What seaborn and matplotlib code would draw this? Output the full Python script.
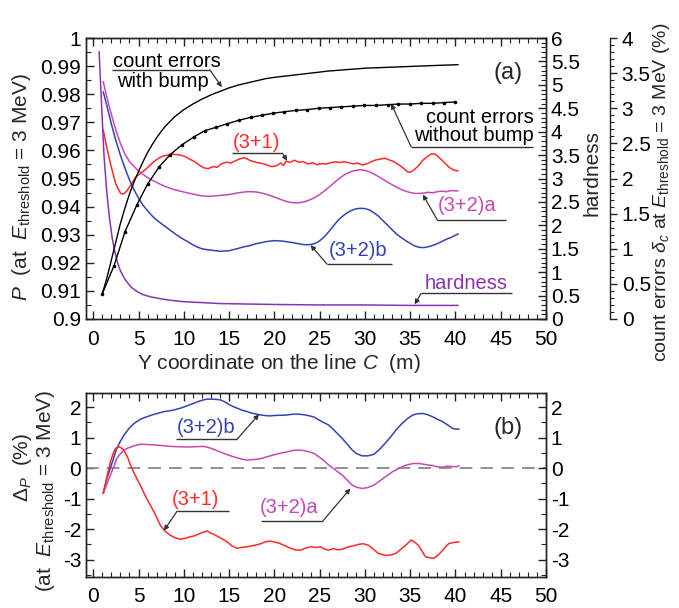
import numpy as np
import pandas as pd
import matplotlib
matplotlib.use("Agg")
import matplotlib.pyplot as plt
from matplotlib.ticker import MultipleLocator, FuncFormatter
import seaborn as sns

# ---------------- data ----------------
# (a) P curves
x_31 = [1.1, 1.5, 2.0, 2.5, 3.0, 3.3, 3.7, 4.2, 4.7, 5.2, 5.7, 6.2, 6.7, 7.2, 7.7, 8.2, 8.7, 9.2,
        9.7, 10.2, 10.7, 11.2, 11.7, 12.2, 12.7, 13.2, 13.7, 14.2, 14.7, 15.2, 15.7, 16.2, 16.7,
        17.2, 17.7, 18.2, 18.7, 19.2, 19.7, 20.2, 20.7, 21.0, 21.3, 21.7, 22.2, 22.7, 23.2, 23.7,
        24.2, 24.7, 25.2, 25.7, 26.2, 26.7, 27.2, 27.7, 28.2, 28.7, 29.2, 29.7, 30.2, 30.7, 31.2,
        31.7, 32.2, 32.7, 33.2, 33.7, 34.2, 34.7, 35.0, 35.4, 35.9, 36.4, 36.9, 37.4, 37.8, 38.3,
        38.8, 39.3, 39.8, 40.3]
p_31 = [0.9673, 0.961, 0.954, 0.948, 0.9448, 0.9444, 0.9455, 0.948, 0.9505, 0.9518, 0.953, 0.9545,
        0.956, 0.9572, 0.958, 0.9583, 0.9587, 0.9585, 0.9583, 0.9577, 0.9568, 0.956, 0.9548, 0.9538,
        0.9535, 0.9542, 0.954, 0.9553, 0.9558, 0.9555, 0.9563, 0.957, 0.9574, 0.9566, 0.956, 0.9556,
        0.9553, 0.9548, 0.9542, 0.9545, 0.9555, 0.9546, 0.9562, 0.9557, 0.9565, 0.9558, 0.956,
        0.9552, 0.9556, 0.9549, 0.9553, 0.9551, 0.9556, 0.9559, 0.9557, 0.956, 0.9556, 0.9552,
        0.9555, 0.9548, 0.9552, 0.956, 0.9566, 0.9569, 0.9572, 0.9566, 0.956, 0.955, 0.9538,
        0.9524, 0.9522, 0.953, 0.9545, 0.9565, 0.9578, 0.9588, 0.9586, 0.9572, 0.9556, 0.954,
        0.953, 0.9527]

x_32 = [1.1, 1.5, 2.0, 2.5, 3.0, 3.5, 4.0, 4.5, 5.0, 5.5, 6.0, 6.5, 7.0, 7.5, 8.0, 8.5, 9.0, 9.5,
        10.0, 10.5, 11.0, 11.5, 12.0, 12.5, 13.0, 13.5, 14.0, 14.5, 15.0, 15.5, 16.0, 16.5, 17.0,
        17.5, 18.0, 18.5, 19.0, 19.5, 20.0, 20.5, 21.0, 21.5, 22.0, 22.5, 23.0, 23.5, 24.0, 24.5,
        25.0, 25.5, 26.0, 26.5, 27.0, 27.5, 28.0, 28.5, 29.0, 29.5, 30.0, 30.5, 31.0, 31.5, 32.0,
        32.5, 33.0, 33.5, 34.0, 34.5, 35.0, 35.5, 36.0, 36.5, 37.0, 37.5, 38.0, 38.5, 39.0, 39.5,
        40.0, 40.3]
p_32a = [0.9845, 0.979, 0.9728, 0.9672, 0.9625, 0.9587, 0.956, 0.9543, 0.9527, 0.9515, 0.9503,
         0.9494, 0.9486, 0.9478, 0.9471, 0.9465, 0.946, 0.9456, 0.9452, 0.9448, 0.9445, 0.9441,
         0.9438, 0.9437, 0.9437, 0.9438, 0.944, 0.9441, 0.9443, 0.9446, 0.9449, 0.9451, 0.9453,
         0.9453, 0.9452, 0.9449, 0.9445, 0.944, 0.9434, 0.9428, 0.9422, 0.9417, 0.9414, 0.9413,
         0.9415, 0.9419, 0.9425, 0.9433, 0.9443, 0.9455, 0.9468, 0.9482, 0.9496, 0.9508, 0.9518,
         0.9525, 0.9529, 0.9531, 0.9529, 0.9524, 0.9516, 0.9507, 0.9497, 0.9487, 0.9478, 0.9469,
         0.9461, 0.9455, 0.945, 0.9447, 0.9447, 0.9448, 0.9451, 0.9449, 0.9453, 0.9455, 0.9453,
         0.9457, 0.9456, 0.9456]
p_32b = [0.9809, 0.976, 0.9694, 0.9635, 0.9583, 0.9537, 0.9495, 0.946, 0.943, 0.9405, 0.9385,
         0.9367, 0.9352, 0.934, 0.9328, 0.9316, 0.9304, 0.9293, 0.9283, 0.9274, 0.9264, 0.9256,
         0.925, 0.9247, 0.9245, 0.9243, 0.9241, 0.9242, 0.9243, 0.9247, 0.9251, 0.9256, 0.9259,
         0.9263, 0.9268, 0.9271, 0.9275, 0.9277, 0.9279, 0.9278, 0.9277, 0.9274, 0.9272, 0.9269,
         0.9266, 0.9264, 0.9265, 0.9269, 0.9278, 0.9292, 0.931, 0.933, 0.935, 0.9365, 0.9377,
         0.9386, 0.9392, 0.9394, 0.9393, 0.9388, 0.9378, 0.9366, 0.935, 0.9334, 0.9318, 0.9302,
         0.929, 0.9279, 0.9269, 0.926, 0.9255, 0.9254, 0.9257, 0.9262, 0.9268, 0.9276, 0.9284,
         0.929, 0.9298, 0.9303]

# hardness (right axis)
x_hard = [0.65, 0.8, 1.0, 1.2, 1.5, 1.8, 2.1, 2.4, 2.7, 3.0, 3.4, 3.8, 4.3, 4.9, 5.5, 6.4, 7.5,
          8.5, 10.0, 12.0, 14.0, 17.0, 20.0, 25.0, 30.0, 35.0, 40.3]
hardness = [5.71, 5.07, 4.25, 3.45, 2.7, 2.15, 1.72, 1.42, 1.19, 1.03, 0.88, 0.77, 0.66, 0.58,
            0.52, 0.47, 0.43, 0.40, 0.37, 0.35, 0.33, 0.32, 0.31, 0.30, 0.30, 0.29, 0.29]

# count errors (third axis, %)
x_bump = [1.0, 1.5, 2.0, 2.5, 3.0, 3.5, 4.0, 4.5, 5.0, 5.5, 6.0, 6.5, 7.0, 7.5, 8.0, 9.0, 10.0,
          11.0, 12.0, 13.0, 14.0, 15.0, 16.0, 17.0, 18.0, 19.0, 20.0, 22.0, 24.0, 26.0, 28.0,
          30.0, 32.0, 34.0, 36.0, 38.0, 40.3]
err_bump = [0.36, 0.58, 0.84, 1.10, 1.36, 1.58, 1.78, 1.95, 2.10, 2.24, 2.37, 2.48, 2.58, 2.67,
            2.75, 2.88, 2.98, 3.06, 3.13, 3.19, 3.24, 3.29, 3.33, 3.36, 3.39, 3.42, 3.44, 3.47,
            3.50, 3.53, 3.55, 3.57, 3.58, 3.59, 3.60, 3.61, 3.62]
x_nobump = [1.0, 2.3, 3.5, 4.8, 6.0, 7.3, 8.5, 9.8, 11.1, 12.3, 13.6, 14.8, 16.1, 17.4, 18.6,
            19.9, 21.1, 22.4, 23.6, 24.9, 26.2, 27.4, 28.7, 29.9, 31.2, 32.5, 33.7, 35.0, 36.2,
            37.5, 38.7, 40.0]
err_nobump = [0.36, 0.76, 1.24, 1.62, 1.92, 2.17, 2.34, 2.48, 2.59, 2.68, 2.73, 2.78, 2.83,
              2.87, 2.90, 2.93, 2.95, 2.97, 2.98, 3.00, 3.01, 3.02, 3.03, 3.04, 3.04, 3.05,
              3.06, 3.06, 3.07, 3.07, 3.08, 3.09]

# (b) Delta P
xb_b = [1.1, 1.5, 1.9, 2.3, 2.6, 3.0, 3.4, 3.9, 4.5, 5.2, 5.9, 6.5, 7.2, 7.8, 8.5, 9.1, 9.6, 10.2,
        10.7, 11.1, 11.6, 12.1, 12.6, 13.1, 13.6, 14.1, 14.6, 15.0, 15.5, 16.0, 16.5, 17.0, 17.5,
        18.0, 18.5, 19.0, 19.5, 19.9, 20.4, 20.9, 21.4, 21.9, 22.4, 22.9, 23.4, 23.9, 24.4, 24.9,
        25.4, 26.0, 26.5, 27.0, 27.5, 28.0, 28.6, 29.1, 29.7, 30.3, 31.0, 31.5, 31.9, 32.5, 33.0,
        33.5, 34.1, 34.7, 35.3, 35.8, 36.4, 36.9, 37.5, 38.0, 38.6, 39.1, 39.7, 40.1, 40.4]
dp_b = [-0.83, -0.35, 0.0, 0.38, 0.64, 0.88, 1.08, 1.28, 1.46, 1.60, 1.68, 1.74, 1.80, 1.85,
        1.88, 1.92, 1.96, 2.02, 2.08, 2.12, 2.18, 2.23, 2.26, 2.26, 2.25, 2.23, 2.16, 2.08, 2.01,
        1.95, 1.89, 1.85, 1.80, 1.77, 1.74, 1.72, 1.71, 1.72, 1.73, 1.73, 1.74, 1.76, 1.77, 1.76,
        1.74, 1.71, 1.67, 1.58, 1.50, 1.41, 1.27, 1.12, 0.97, 0.80, 0.59, 0.47, 0.40, 0.40, 0.45,
        0.58, 0.70, 0.90, 1.08, 1.27, 1.46, 1.62, 1.74, 1.78, 1.79, 1.75, 1.68, 1.60, 1.52, 1.42,
        1.30, 1.27, 1.28]
xb_a = [1.1, 1.5, 1.9, 2.3, 2.6, 3.1, 3.7, 4.4, 5.2, 6.0, 6.7, 7.5, 8.5, 9.4, 10.4, 11.3, 12.2,
        13.0, 14.0, 14.8, 15.5, 16.3, 17.0, 17.8, 18.5, 19.2, 19.9, 20.7, 21.4, 22.1, 22.9, 23.6,
        24.4, 25.0, 25.5, 26.0, 26.5, 27.0, 27.5, 28.0, 28.6, 29.1, 29.7, 30.3, 31.0, 31.6, 32.3,
        33.0, 33.8, 34.5, 35.3, 35.9, 36.4, 37.0, 37.5, 38.0, 38.6, 39.1, 39.7, 40.1, 40.4]
dp_a = [-0.83, -0.52, -0.23, 0.07, 0.32, 0.50, 0.64, 0.72, 0.78, 0.77, 0.76, 0.74, 0.71, 0.70,
        0.69, 0.70, 0.71, 0.65, 0.53, 0.44, 0.37, 0.30, 0.26, 0.28, 0.31, 0.37, 0.43, 0.49, 0.53,
        0.58, 0.59, 0.55, 0.48, 0.35, 0.24, 0.10, -0.01, -0.12, -0.23, -0.38, -0.56, -0.63, -0.67,
        -0.64, -0.56, -0.43, -0.28, -0.13, 0.0, 0.09, 0.15, 0.15, 0.13, 0.10, 0.08, 0.04, 0.03,
        0.06, 0.05, 0.04, 0.08]
xb_31 = [1.1, 1.5, 1.9, 2.2, 2.45, 2.8, 3.1, 3.4, 3.8, 4.1, 4.6, 5.2, 5.7, 6.3, 6.9, 7.4, 7.9,
         8.5, 9.0, 9.6, 10.2, 10.7, 11.2, 11.8, 12.2, 12.6, 12.9, 13.3, 13.8, 14.3, 14.8, 15.3,
         15.9, 16.4, 17.0, 17.5, 18.0, 18.5, 19.0, 19.5, 20.0, 20.6, 21.2, 21.8, 22.3, 22.9,
         23.4, 24.0, 24.6, 25.1, 25.5, 26.0, 26.5, 27.0, 27.5, 28.2, 28.7, 29.3, 29.8, 30.4,
         30.9, 31.5, 32.0, 32.3, 32.8, 33.4, 33.9, 34.5, 35.1, 35.5, 35.9, 36.3, 36.7, 37.2,
         37.6, 38.1, 38.6, 39.0, 39.3, 39.8, 40.4]
dp_31 = [-0.83, -0.30, 0.21, 0.48, 0.64, 0.70, 0.66, 0.58, 0.35, 0.10, -0.22, -0.56, -0.88,
         -1.21, -1.55, -1.87, -2.06, -2.20, -2.28, -2.33, -2.30, -2.25, -2.22, -2.14, -2.10,
         -2.06, -2.12, -2.17, -2.25, -2.33, -2.42, -2.55, -2.63, -2.60, -2.58, -2.55, -2.52,
         -2.48, -2.42, -2.39, -2.42, -2.47, -2.55, -2.63, -2.68, -2.69, -2.63, -2.58, -2.60,
         -2.58, -2.65, -2.69, -2.64, -2.68, -2.66, -2.58, -2.55, -2.50, -2.48, -2.53, -2.65,
         -2.80, -2.84, -2.86, -2.85, -2.80, -2.68, -2.53, -2.36, -2.43, -2.53, -2.72, -2.91,
         -2.94, -2.96, -2.85, -2.69, -2.55, -2.47, -2.44, -2.42]

x_ticks = [0, 5, 10, 15, 20, 25, 30, 35, 40, 45, 50]

# ---------------- style ----------------
sns.set_theme(style="ticks")
plt.rcParams["font.family"] = ["Liberation Sans", "DejaVu Sans"]
plt.rcParams["mathtext.fontset"] = "custom"
plt.rcParams["mathtext.rm"] = "Liberation Sans"
plt.rcParams["mathtext.it"] = "Liberation Sans:italic"
plt.rcParams["mathtext.bf"] = "Liberation Sans:bold"
plt.rcParams["axes.unicode_minus"] = False

RED = "#ff2a2a"
MAG = "#c44ab4"
BLUE = "#3344b0"
PURP = "#8a34b0"
LEAD = "#333333"
FS = 15
LW = 1.1

fig = plt.figure(figsize=(6.79, 6.08), dpi=100)
W, H = 679.0, 608.0
ax = fig.add_axes([86 / W, 1 - 319 / H, 460 / W, 281 / H])
ax2 = ax.twinx()
ax3 = ax.twinx()
axb = fig.add_axes([86 / W, 1 - 577 / H, 460 / W, 184 / H])
axb2 = axb.twinx()

fmt = FuncFormatter(lambda v, p: f"{round(v, 4):g}")

def line(a, x, y, color, lw=LW, **kw):
    sns.lineplot(x=x, y=y, ax=a, color=color, lw=lw, sort=False, estimator=None, **kw)

# ---- (a) ----
line(ax, x_31, p_31, RED)
line(ax, x_32, p_32a, MAG)
line(ax, x_32, p_32b, BLUE)
line(ax2, x_hard, hardness, PURP)
line(ax3, x_bump, err_bump, "black", lw=1.0)
line(ax3, x_nobump, err_nobump, "black", lw=1.0, marker="o", markersize=2.6,
     markeredgewidth=0)

ax.set_xlim(-0.8, 50)
ax.set_ylim(0.9, 1.0)
ax2.set_ylim(0, 6)
ax3.set_ylim(0, 4)
ax.set_xticks(x_ticks)
ax.xaxis.set_minor_locator(MultipleLocator(1))
ax.yaxis.set_major_locator(MultipleLocator(0.01))
ax.yaxis.set_minor_locator(MultipleLocator(0.005))
ax.yaxis.set_major_formatter(fmt)
ax2.yaxis.set_major_locator(MultipleLocator(0.5))
ax2.yaxis.set_minor_locator(MultipleLocator(0.1))
ax2.yaxis.set_major_formatter(fmt)
ax3.yaxis.set_major_locator(MultipleLocator(0.5))
ax3.yaxis.set_minor_locator(MultipleLocator(0.1))
ax3.yaxis.set_major_formatter(fmt)
ax3.spines["right"].set_position(("axes", 1.139))
for s in ["top", "bottom", "left"]:
    ax3.spines[s].set_visible(False)

ax.tick_params(which="both", direction="in", top=True, bottom=True, left=True, right=False,
               labelsize=FS, colors="#222222", labelcolor="black")
ax.tick_params(axis="x", which="major", pad=8)
ax.tick_params(which="major", length=6, width=1)
ax.tick_params(which="minor", length=3.5, width=0.8)
ax2.tick_params(which="both", direction="in", labelsize=FS, colors="#222222", labelcolor="black")
ax2.tick_params(which="major", length=6, width=1)
ax2.tick_params(which="minor", length=3.5, width=0.8)
ax3.tick_params(which="both", direction="out", labelsize=FS, colors="#222222", labelcolor="black")
ax3.tick_params(which="major", length=5, width=1)
ax3.tick_params(which="minor", length=3, width=0.8)
for a in (ax, ax2, ax3, axb, axb2):
    for s in a.spines.values():
        s.set_color("#222222")
        s.set_linewidth(1.0)

ax.set_xlabel(r"Y coordinate on the line $C$  (m)", fontsize=FS)
ax.xaxis.set_label_coords(0.42, -0.118)
ax.set_ylabel(r"$P$  (at  $E_{\mathrm{threshold}}$ = 3 MeV)", fontsize=FS, va="center")
ax.yaxis.set_label_coords(-0.141, 0.47)
ax2.set_ylabel("hardness", fontsize=FS, va="center")
ax2.yaxis.set_label_coords((592 - 86) / 460, 0.52)
ax3.set_ylabel(r"count errors $\delta_c$ at $E_{\mathrm{threshold}}$ = 3 MeV (%)",
               fontsize=14, va="center", rotation=90)
ax3.yaxis.set_label_coords((661 - 86) / 460, 0.45)

def leader(a, text, tx, ty, ux0, ux1, uy, corner, tip, color, **tkw):
    a.text(tx, ty, text, color=color, fontsize=14.5, ha=tkw.get("ha", "center"),
           va=tkw.get("va", "center"), linespacing=0.95)
    a.plot([ux0, ux1], [uy, uy], color=LEAD, lw=1.0, solid_capstyle="butt")
    a.annotate("", xy=tip, xytext=corner,
               arrowprops=dict(arrowstyle="-|>", color=LEAD, lw=0.9, mutation_scale=7,
                               shrinkA=0, shrinkB=0))

leader(ax, "count errors", 8.1, 0.9915, 2.1, 12.9, 0.9886, (12.9, 0.9886), (14.2, 0.9825), "black")
ax.text(7.7, 0.9845, "with bump", fontsize=14.5, ha="center", va="center", color="black")
leader(ax, "(3+1)", 18.0, 0.9628, 15.3, 20.9, 0.959, (20.9, 0.959), (21.4, 0.9563), RED)
leader(ax, "count errors\nwithout bump", 48.6, 0.9618, 35.1, 48.6, 0.9613, (35.1, 0.9613),
       (32.9, 0.9766), "black", ha="right", va="bottom")
leader(ax, "(3+2)a", 41.3, 0.9405, 38.0, 45.6, 0.9352, (38.0, 0.9352), (36.4, 0.9443), MAG)
leader(ax, "(3+2)b", 29.3, 0.9242, 25.8, 33.0, 0.9196, (25.8, 0.9196), (24.0, 0.9263), BLUE)
leader(ax, "hardness", 41.2, 0.9126, 36.2, 46.3, 0.9091, (36.2, 0.9091), (35.5, 0.9052), PURP)
ax.text(45.8, 0.9875, "(a)", fontsize=17, ha="center", va="center")

# ---- (b) ----
axb.axhline(0, color="#888888", lw=1.3, ls=(0, (7, 4.5)))
line(axb, xb_b, dp_b, BLUE)
line(axb, xb_a, dp_a, MAG)
line(axb, xb_31, dp_31, RED)
axb.set_xlim(-0.8, 50)
axb.set_ylim(-3.57, 2.46)
axb2.set_ylim(-3.57, 2.46)
axb.set_xticks(x_ticks)
axb.xaxis.set_minor_locator(MultipleLocator(1))
for a in (axb, axb2):
    a.yaxis.set_major_locator(MultipleLocator(1))
    a.yaxis.set_minor_locator(MultipleLocator(0.5))
    a.yaxis.set_major_formatter(fmt)
axb.tick_params(which="both", direction="in", top=True, bottom=True, left=True, right=False,
                labelsize=FS, colors="#222222", labelcolor="black")
axb.tick_params(axis="x", which="major", pad=7)
axb.tick_params(which="major", length=6, width=1)
axb.tick_params(which="minor", length=3.5, width=0.8)
axb2.tick_params(which="both", direction="in", labelsize=FS, colors="#222222", labelcolor="black")
axb2.tick_params(which="major", length=6, width=1)
axb2.tick_params(which="minor", length=3.5, width=0.8)

axb.set_ylabel(r"(at  $E_{\mathrm{threshold}}$ = 3 MeV)", fontsize=FS, va="center")
axb.yaxis.set_label_coords((46 - 86) / 460, 0.47)
axb.text((22 - 86) / 460, (577 - 467) / 184, r"$\Delta_P$  (%)", transform=axb.transAxes,
         rotation=90, fontsize=FS, ha="center", va="center")

leader(axb, "(3+2)b", 12.5, 1.32, 9.1, 15.9, 0.95, (15.9, 0.95), (18.3, 1.76), BLUE)
leader(axb, "(3+1)", 11.3, -1.03, 9.26, 15.0, -1.41, (9.26, -1.41), (7.8, -2.05), RED)
leader(axb, "(3+2)a", 21.6, -1.3, 18.5, 25.4, -1.72, (25.4, -1.72), (28.4, -0.67), MAG)
axb.text(45.8, 1.31, "(b)", fontsize=17, ha="center", va="center")

fig.savefig("out.png", dpi=100)
